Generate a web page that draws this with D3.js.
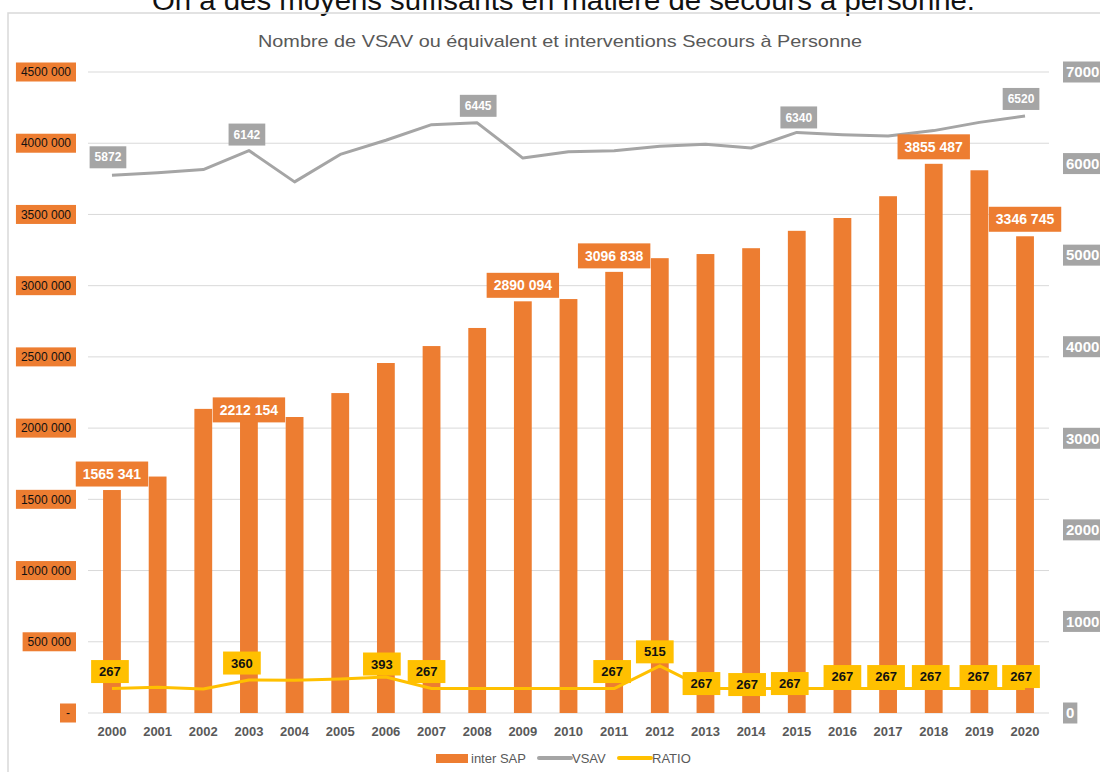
<!DOCTYPE html>
<html>
<head>
  <meta charset="utf-8">
  <title>VSAV et interventions SAP</title>
  <style>
    body { margin: 0; background: #fff; }
    text { font-family: "Liberation Sans", Arial, sans-serif; }
  </style>
</head>
<body>
  <script src="https://d3js.org/d3.v7.min.js"></script>
  <script>
    var years = [2000, 2001, 2002, 2003, 2004, 2005, 2006, 2007, 2008, 2009, 2010,
                 2011, 2012, 2013, 2014, 2015, 2016, 2017, 2018, 2019, 2020];
    var interSAP = [1565341, 1660000, 2135000, 2212154, 2078000, 2246000, 2457000, 2576000, 2703000, 2890094, 2906000,
                    3096838, 3193000, 3222000, 3263000, 3385000, 3475000, 3628000, 3855487, 3810000, 3346745];
    var vsav = [5872, 5900, 5935, 6142, 5800, 6100, 6255, 6425, 6445, 6060, 6130,
                6140, 6190, 6210, 6170, 6340, 6315, 6300, 6360, 6450, 6520];
    var ratio = [267, 280, 262, 360, 357, 371, 393, 267, 267, 267, 267,
                 267, 515, 267, 267, 267, 267, 267, 267, 267, 267];

    var leftTicks = [0, 500000, 1000000, 1500000, 2000000, 2500000, 3000000, 3500000, 4000000, 4500000];
    var rightTicks = [0, 1000, 2000, 3000, 4000, 5000, 6000, 7000];

    // which points carry a data label, with the label offset [dx, dy] from the point
    var barLabels = { 2000: [0, -16], 2003: [0, 12], 2009: [0, -16], 2011: [0, -16], 2018: [0, -17], 2020: [0, -17] };
    var vsavLabels = { 2000: [-4, -18], 2003: [-2, -16], 2008: [1, -17], 2015: [2, -15], 2020: [-4, -17] };
    var ratioLabels = { 2000: [-2, -17], 2003: [-7, -17], 2006: [-4, -13], 2007: [-5, -17], 2011: [-2, -17],
                        2012: [-5, -14], 2013: [-4, -5], 2014: [-4, -4], 2015: [-7, -5], 2016: [0, -12],
                        2017: [-2, -12], 2018: [-3, -12], 2019: [-1, -12], 2020: [-4, -12] };

    var ORANGE = "#ED7D31", GRAY = "#A5A5A5", YELLOW = "#FFC000", TXT = "#595959";

    var width = 1100, height = 772;
    var svg = d3.select("body").append("svg").attr("width", width).attr("height", height);

    // page heading, cut off at the top
    svg.append("text").attr("x", 152).attr("y", 10)
      .attr("textLength", 823).attr("lengthAdjust", "spacingAndGlyphs")
      .style("font-size", "27px").attr("fill", "#111")
      .text("On a des moyens suffisants en matière de secours à personne.");

    // chart frame
    svg.append("rect").attr("x", 8).attr("y", 13).attr("width", 1120).attr("height", 800)
      .attr("fill", "none").attr("stroke", "#d9d9d9").attr("stroke-width", 1.5);

    svg.append("text").attr("x", 258).attr("y", 47)
      .attr("textLength", 604).attr("lengthAdjust", "spacingAndGlyphs")
      .style("font-size", "17px").attr("fill", TXT)
      .text("Nombre de VSAV ou équivalent et interventions Secours à Personne");

    var x = d3.scaleBand().domain(years).range([88, 1049]).paddingInner(0.61).paddingOuter(0.33);
    var yL = d3.scaleLinear().domain([0, 4500000]).range([713, 72]);
    var yR = d3.scaleLinear().domain([0, 7000]).range([713, 72]);
    var cx = function(yr) { return x(yr) + x.bandwidth() / 2; };

    // gridlines
    svg.append("g").selectAll("line").data(leftTicks).join("line")
      .attr("x1", 88).attr("x2", 1049)
      .attr("y1", function(d) { return yL(d); }).attr("y2", function(d) { return yL(d); })
      .attr("stroke", "#d9d9d9").attr("stroke-width", 1);

    // left axis labels (orange boxes)
    var fmt = function(v) {
      if (v === 0) return "-";
      var s = String(v);
      return s.slice(0, s.length - 3) + " " + s.slice(-3);
    };
    var fmtLabel = function(v) {
      var s = String(v);
      if (s.length <= 3) return s;
      return s.slice(0, s.length - 3) + " " + s.slice(-3);
    };

    function boxLabel(g, tx, ty, str, fill, color, size, weight, padX, h, anchor) {
      var t = g.append("text").attr("y", ty).attr("dy", "0.35em")
        .style("font-size", size + "px").style("font-weight", weight)
        .attr("fill", color).text(str);
      var w = t.node().getComputedTextLength();
      var left;
      if (anchor === "end") left = tx - w - 2 * padX;
      else if (anchor === "start") left = tx;
      else left = tx - w / 2 - padX;
      t.attr("x", left + padX);
      g.insert("rect", function() { return t.node(); })
        .attr("x", left).attr("y", ty - h / 2).attr("width", w + 2 * padX).attr("height", h)
        .attr("fill", fill);
    }

    var gAxL = svg.append("g");
    leftTicks.forEach(function(v) {
      boxLabel(gAxL, 76, yL(v), fmt(v), ORANGE, "#111", 12, "normal", v === 0 ? 6 : 5, 19, "end");
    });

    var gAxR = svg.append("g");
    rightTicks.forEach(function(v) {
      boxLabel(gAxR, 1063, yR(v), String(v), GRAY, "#fff", 15, "bold", 3, 21, "start");
    });

    // x axis labels
    svg.append("g").selectAll("text").data(years).join("text")
      .attr("x", function(d) { return cx(d); }).attr("y", 731).attr("dy", "0.35em")
      .attr("text-anchor", "middle").style("font-size", "13px").style("font-weight", "bold")
      .attr("fill", TXT).text(function(d) { return d; });

    // bars
    svg.append("g").selectAll("rect").data(years).join("rect")
      .attr("x", function(d) { return x(d); }).attr("width", x.bandwidth())
      .attr("y", function(d, i) { return yL(interSAP[i]); })
      .attr("height", function(d, i) { return yL(0) - yL(interSAP[i]); })
      .attr("fill", ORANGE);

    // lines
    var lineV = d3.line().x(function(d, i) { return cx(years[i]); }).y(function(d) { return yR(d); });
    svg.append("path").datum(vsav).attr("d", lineV)
      .attr("fill", "none").attr("stroke", GRAY).attr("stroke-width", 3).attr("stroke-linejoin", "round");
    svg.append("path").datum(ratio).attr("d", lineV)
      .attr("fill", "none").attr("stroke", YELLOW).attr("stroke-width", 3).attr("stroke-linejoin", "round");

    // data labels
    var gLab = svg.append("g");
    years.forEach(function(yr, i) {
      if (barLabels[yr]) {
        var o = barLabels[yr];
        boxLabel(gLab, cx(yr) + o[0], yL(interSAP[i]) + o[1], fmtLabel(interSAP[i]), ORANGE, "#fff", 14, "bold", 7, 25, "middle");
      }
    });
    years.forEach(function(yr, i) {
      if (vsavLabels[yr]) {
        var o = vsavLabels[yr];
        boxLabel(gLab, cx(yr) + o[0], yR(vsav[i]) + o[1], String(vsav[i]), GRAY, "#fff", 12, "bold", 5, 22, "middle");
      }
    });
    years.forEach(function(yr, i) {
      if (ratioLabels[yr]) {
        var o = ratioLabels[yr];
        boxLabel(gLab, cx(yr) + o[0], yR(ratio[i]) + o[1], String(ratio[i]), YELLOW, "#111", 13, "bold", 8, 23, "middle");
      }
    });

    // legend
    var gLeg = svg.append("g").style("font-size", "13px");
    gLeg.append("rect").attr("x", 436).attr("y", 754).attr("width", 32).attr("height", 9).attr("fill", ORANGE);
    gLeg.append("text").attr("x", 471).attr("y", 758).attr("dy", "0.35em").attr("fill", TXT).text("inter SAP");
    gLeg.append("line").attr("x1", 539).attr("x2", 571).attr("y1", 758).attr("y2", 758)
      .attr("stroke", GRAY).attr("stroke-width", 4).attr("stroke-linecap", "round");
    gLeg.append("text").attr("x", 572).attr("y", 758).attr("dy", "0.35em").attr("fill", TXT).text("VSAV");
    gLeg.append("line").attr("x1", 619).attr("x2", 651).attr("y1", 758).attr("y2", 758)
      .attr("stroke", YELLOW).attr("stroke-width", 4).attr("stroke-linecap", "round");
    gLeg.append("text").attr("x", 652).attr("y", 758).attr("dy", "0.35em").attr("fill", TXT).text("RATIO");
  </script>
</body>
</html>
